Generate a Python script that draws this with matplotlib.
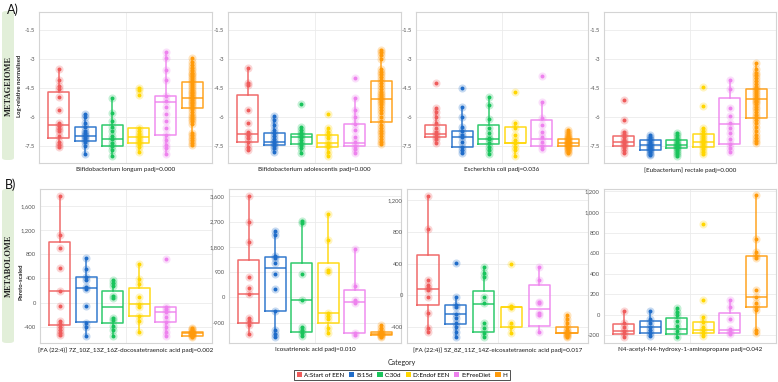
import matplotlib
matplotlib.use("Agg")
import matplotlib.pyplot as plt
from matplotlib.patches import FancyBboxPatch, Patch
from matplotlib.ticker import FuncFormatter

plt.rcParams['font.family'] = ['Lato', 'DejaVu Sans']

categories = ["A:Start of EEN", "B:15d", "C:30d", "D:Endof EEN", "E:FreeDiet", "H"]
colors = ["#EF5B5B", "#1F6CC9", "#19C45C", "#FFD600", "#EE82EE", "#FF9A0A"]

titles_top = ["Bifidobacterium longum padj=0.000",
              "Bifidobacterium adolescentis padj=0.000",
              "Escherichia coli padj=0.036",
              "[Eubacterium] rectale padj=0.000"]
titles_bottom = ["[FA (22:4)] 7Z_10Z_13Z_16Z-docosatetraenoic acid padj=0.002",
                 "Icosatrienoic acid padj=0.010",
                 "[FA (22:4)] 5Z_8Z_11Z_14Z-eicosatetraenoic acid padj=0.017",
                 "N4-acetyl-N4-hydroxy-1-aminopropane padj=0.042"]

# ---- Metagenome panels: box stats [whislo, q1, med, q3, whishi] and points ----
a1_box = [[-7.55, -7.07, -6.43, -4.72, -3.5], [-7.9, -7.26, -6.98, -6.53, -5.85],
          [-8.0, -7.5, -7.15, -6.41, -5.0], [-7.8, -7.33, -7.02, -6.55, -6.55],
          [-7.9, -6.91, -5.21, -4.9, -2.65], [-7.45, -5.52, -5.0, -4.17, -2.97]]
a1_pts = [[-3.5, -4.1, -4.4, -4.55, -4.95, -5.65, -6.3, -6.45, -6.6, -6.75, -7.0, -7.3, -7.45, -7.55],
          [-5.85, -6.0, -6.3, -6.5, -6.7, -6.85, -6.95, -7.0, -7.1, -7.2, -7.3, -7.5, -7.9],
          [-5.0, -5.8, -6.2, -6.5, -6.75, -7.0, -7.15, -7.35, -7.5, -7.7, -8.0],
          [-4.5, -4.6, -4.85, -6.55, -6.75, -6.9, -7.0, -7.1, -7.2, -7.3, -7.4, -7.55, -7.8],
          [-2.65, -2.95, -3.55, -4.1, -4.9, -5.15, -5.5, -5.85, -6.2, -6.55, -6.95, -7.2, -7.45, -7.6, -7.9],
          [-2.97, -3.15, -3.3, -3.45, -3.55, -3.7, -3.8, -3.9, -4.0, -4.1, -4.2, -4.3, -4.4, -4.5, -4.6,
           -4.7, -4.75, -4.85, -4.95, -5.0, -5.1, -5.2, -5.3, -5.4, -5.5, -5.6, -5.75, -5.9, -6.0, -6.1,
           -6.2, -6.35, -6.85, -6.95, -7.1, -7.2, -7.35, -7.45]]

a2_box = [[-7.7, -7.28, -6.9, -4.86, -3.48], [-7.8, -7.45, -7.28, -6.84, -5.95],
          [-7.85, -7.4, -7.05, -6.88, -6.5], [-8.0, -7.57, -7.33, -6.93, -6.59],
          [-7.88, -7.48, -7.33, -6.38, -5.03], [-7.4, -6.24, -5.09, -4.14, -2.53]]
a2_pts = [[-3.48, -4.26, -4.35, -5.64, -6.29, -6.76, -6.93, -7.1, -7.28, -7.53, -7.7],
          [-5.95, -6.16, -6.41, -6.67, -6.84, -7.0, -7.15, -7.28, -7.36, -7.5, -7.62, -7.8],
          [-5.33, -6.5, -6.67, -6.84, -6.93, -7.05, -7.19, -7.33, -7.45, -7.62, -7.85],
          [-5.84, -6.59, -6.76, -6.93, -7.1, -7.33, -7.45, -7.57, -7.79, -8.0],
          [-3.97, -5.03, -5.64, -5.98, -6.38, -6.67, -7.02, -7.28, -7.48, -7.67, -7.88],
          [-2.53, -2.65, -2.8, -3.0, -3.5, -3.65, -3.8, -3.95, -4.1, -4.25, -4.4, -4.55, -4.7, -4.8,
           -4.9, -5.0, -5.1, -5.2, -5.35, -5.5, -5.65, -5.8, -6.0, -6.2, -6.4, -6.55, -6.7, -6.85,
           -7.0, -7.15, -7.3, -7.4]]

a3_box = [[-7.33, -7.05, -6.88, -6.41, -5.55], [-7.88, -7.53, -7.05, -6.72, -5.47],
          [-7.91, -7.41, -7.15, -6.41, -4.95], [-8.02, -7.36, -7.36, -6.53, -6.33],
          [-7.65, -7.5, -7.15, -6.16, -5.21], [-7.88, -7.5, -7.33, -7.15, -6.67]]
a3_pts = [[-4.26, -5.55, -5.72, -5.98, -6.33, -6.59, -6.76, -6.88, -7.02, -7.15, -7.33],
          [-4.52, -5.47, -6.02, -6.5, -6.72, -6.93, -7.05, -7.28, -7.53, -7.7, -7.88],
          [-4.95, -5.38, -6.12, -6.55, -6.81, -7.07, -7.15, -7.33, -7.53, -7.71, -7.91],
          [-4.69, -6.33, -6.59, -6.93, -7.19, -7.36, -7.53, -7.71, -8.02],
          [-3.86, -5.21, -6.07, -6.41, -6.76, -7.02, -7.28, -7.5, -7.65],
          [-6.67, -6.8, -6.9, -7.0, -7.05, -7.1, -7.15, -7.2, -7.25, -7.3, -7.33, -7.36, -7.4,
           -7.45, -7.5, -7.55, -7.6, -7.65, -7.7, -7.8, -7.88]]

a4_box = [[-7.88, -7.5, -7.28, -6.98, -6.76], [-7.97, -7.71, -7.45, -7.19, -6.93],
          [-8.02, -7.62, -7.45, -7.19, -6.84], [-7.91, -7.57, -7.28, -6.9, -6.59],
          [-7.83, -7.4, -6.38, -5.0, -4.09], [-7.36, -6.07, -5.07, -4.57, -3.19]]
a4_pts = [[-5.12, -6.16, -6.76, -6.9, -7.05, -7.2, -7.28, -7.35, -7.45, -7.55, -7.7, -7.88],
          [-6.93, -7.05, -7.15, -7.2, -7.3, -7.4, -7.45, -7.5, -7.55, -7.6, -7.65, -7.7, -7.8, -7.9, -7.97],
          [-6.84, -6.95, -7.1, -7.2, -7.3, -7.4, -7.45, -7.5, -7.55, -7.6, -7.7, -7.8, -7.9, -8.02],
          [-4.43, -5.43, -6.59, -6.75, -6.9, -7.0, -7.1, -7.2, -7.28, -7.35, -7.45, -7.55, -7.65, -7.8, -7.91],
          [-4.09, -4.57, -5.55, -5.95, -6.3, -6.55, -6.84, -7.15, -7.4, -7.6, -7.83],
          [-3.19, -3.5, -3.7, -3.85, -4.0, -4.15, -4.3, -4.45, -4.55, -4.65, -4.75, -4.85, -4.95,
           -5.05, -5.15, -5.25, -5.35, -5.5, -5.6, -5.75, -5.9, -6.0, -6.15, -6.3, -6.5, -6.7,
           -6.95, -7.1, -7.25, -7.36]]

# ---- Metabolome panels ----
b1_box = [[-534, -369, 193, 1008, 1763], [-545, -320, 248, 430, 744], [-545, -331, -77, 198, 375],
          [-479, -220, -22, 248, 639], [-545, -325, -160, -77, -77], [-562, -545, -507, -479, -413]]
b1_pts = [[1763, 1118, 898, 579, 193, -55, -298, -358, -397, -452, -496, -534],
          [744, 556, 430, 375, 264, 226, -55, -331, -397, -545],
          [375, 331, 281, 110, 72, -248, -287, -386, -452, -545],
          [639, 391, 309, 99, -22, -66, -220, -298, -479],
          [716, -77, -105, -160, -231, -325, -397, -479, -545],
          [-413, -440, -460, -480, -495, -505, -515, -525, -540, -550, -562]]

b2_box = [[-1306, -926, 107, 1329, 3608], [-1400, -475, 1033, 1424, 2374], [-1377, -1223, -95, 1234, 2730],
          [-1282, -902, -570, 1211, 2968], [-1341, -1258, -154, 261, 1709], [-1400, -1341, -1306, -1223, -985]]
b2_pts = [[3608, 2694, 1958, 712, 344, 107, -748, -843, -985, -1306],
          [2374, 2220, 1472, 1389, 1234, 831, 285, -475, -1163, -1306, -1400],
          [2730, 2630, 831, -95, -1045, -1163, -1282, -1377],
          [2968, 2042, 973, 914, -570, -665, -783, -1104, -1282],
          [1709, 415, -95, -190, -1258, -1341],
          [-985, -1100, -1200, -1250, -1290, -1320, -1340, -1370, -1400]]

b3_box = [[-457, -122, 80, 507, 1253], [-520, -360, -235, -122, -17], [-520, -457, -113, 54, 360],
          [-478, -394, -142, -142, -142], [-457, -385, -168, 130, 360], [-520, -469, -469, -394, -247]]
b3_pts = [[1253, 830, 193, 130, 88, 67, -25, -218, -415, -457],
          [402, -17, -122, -151, -235, -290, -352, -394, -457, -520],
          [360, 285, 226, -25, -100, -352, -415, -470, -520],
          [394, -134, -163, -352, -394, -478],
          [360, 193, -80, -100, -218, -247, -457],
          [-247, -300, -350, -400, -430, -450, -469, -480, -495, -510, -520]]

b4_box = [[-214, -188, -156, -91, 39], [-205, -175, -117, -62, 39], [-214, -188, -143, -36, 62],
          [-205, -182, -149, -68, -19], [-188, -175, -149, 19, 143], [-175, 71, 175, 575, 1166]]
b4_pts = [[39, -84, -117, -156, -180, -214],
          [39, -45, -84, -117, -150, -182, -205],
          [62, 30, 0, -62, -110, -160, -214],
          [880, 143, -19, -68, -117, -149, -182, -205],
          [143, 71, -45, -143, -165, -188],
          [1166, 737, 607, 575, 549, 240, 175, 110, 78, 45, -149, -175]]

top_yticks = [-7.5, -6, -4.5, -3, -1.5]
b1_yticks = [-400, 0, 400, 800, 1200, 1600]
b2_yticks = [-900, 0, 900, 1800, 2700, 3600]
b3_yticks = [-400, 0, 400, 800, 1200]
b4_yticks = [-200, 0, 200, 400, 600, 800, 1000, 1200]

W, H = 778, 382
fig = plt.figure(figsize=(W / 100, H / 100), dpi=100)


def px_axes(x0, y0, x1, y1):
    return fig.add_axes([x0 / W, 1 - y1 / H, (x1 - x0) / W, (y1 - y0) / H])


def fmt_top(v, _):
    return "%g" % v


def fmt_bot(v, _):
    return "{:,.0f}".format(v)


def draw(ax, boxes, pts, ylim, yticks, fmt):
    stats = [dict(whislo=b[0], q1=b[1], med=b[2], q3=b[3], whishi=b[4]) for b in boxes]
    res = ax.bxp(stats, positions=list(range(6)), widths=0.78, showfliers=False,
                 showcaps=False, manage_ticks=False)
    for i, c in enumerate(colors):
        res['boxes'][i].set(color=c, linewidth=1.1, alpha=0.9)
        res['medians'][i].set(color=c, linewidth=1.1, alpha=0.9)
        res['whiskers'][2 * i].set(color=c, linewidth=1.1, alpha=0.9)
        res['whiskers'][2 * i + 1].set(color=c, linewidth=1.1, alpha=0.9)
    for i, c in enumerate(colors):
        ax.scatter([i] * len(pts[i]), pts[i], s=34, color=c, alpha=0.25, linewidths=0, zorder=3)
        ax.scatter([i] * len(pts[i]), pts[i], s=8, color=c, alpha=1.0, linewidths=0, zorder=4)
    ax.set_xlim(-0.74, 5.74)
    ax.set_ylim(*ylim)
    ax.set_yticks(yticks)
    ax.yaxis.set_major_formatter(FuncFormatter(fmt))
    ax.set_xticks([])
    ax.grid(axis='y', color='#ebebeb', linewidth=0.6)
    ax.axvline(2.5, color='#ebebeb', linewidth=0.6, zorder=0)
    ax.set_axisbelow(True)
    ax.tick_params(axis='y', length=0, labelsize=4.2, labelcolor='#555555', pad=3)
    for sp in ax.spines.values():
        sp.set_color('#d4d4d4')
        sp.set_linewidth(0.8)


top_x = [(39, 212), (228, 401), (416, 588), (604, 776)]
bot_x = [(40, 212), (229, 401), (407, 588), (604, 776)]
top_data = [(a1_box, a1_pts), (a2_box, a2_pts), (a3_box, a3_pts), (a4_box, a4_pts)]
bot_data = [(b1_box, b1_pts, (-667, 1880), b1_yticks), (b2_box, b2_pts, (-1626, 3858), b2_yticks),
            (b3_box, b3_pts, (-599, 1337), b3_yticks), (b4_box, b4_pts, (-276, 1224), b4_yticks)]

for k in range(4):
    ax = px_axes(top_x[k][0], 12, top_x[k][1], 163)
    draw(ax, top_data[k][0], top_data[k][1], (-8.38, -0.57), top_yticks, fmt_top)
    fig.text((top_x[k][0] + top_x[k][1]) / 2 / W, 1 - 170 / H, titles_top[k],
             ha='center', va='center', fontsize=4.5, color='#1a1a1a')

for k in range(4):
    ax = px_axes(bot_x[k][0], 189, bot_x[k][1], 343)
    b, p, yl, yt = bot_data[k]
    draw(ax, b, p, yl, yt, fmt_bot)
    fig.text((bot_x[k][0] + bot_x[k][1]) / 2 / W, 1 - 350 / H, titles_bottom[k],
             ha='center', va='center', fontsize=4.5, color='#1a1a1a')

# side panels
for (y0, y1, label) in [(11, 160, "METAGEIOME"), (189, 343, "METABOLOME")]:
    patch = FancyBboxPatch((2 / W, 1 - y1 / H), 12 / W, (y1 - y0) / H,
                           boxstyle="round,pad=0,rounding_size=0.006",
                           transform=fig.transFigure, facecolor='#E2EFD9', edgecolor='none')
    fig.patches.append(patch)
    fig.text(8.5 / W, 1 - (y0 + y1) / 2 / H, label, rotation=90, ha='center', va='center',
             fontsize=6, fontweight='bold', family='Liberation Serif', color='#222222')

fig.text(7 / W, 1 - 10 / H, "A)", fontsize=9, ha='left', va='center', color='#111111')
fig.text(5 / W, 1 - 185 / H, "B)", fontsize=9, ha='left', va='center', color='#111111')

fig.text(20 / W, 1 - 86 / H, "Log-relative normalised", rotation=90, ha='center', va='center',
         fontsize=4.2, fontweight='bold', color='#222222')
fig.text(21 / W, 1 - 282 / H, "Pareto-scaled", rotation=90, ha='center', va='center',
         fontsize=4.2, fontweight='bold', color='#222222')

fig.text(402 / W, 1 - 362 / H, "Category", ha='center', va='center', fontsize=5, color='#222222')
handles = [Patch(facecolor=c, edgecolor='none', label=l) for c, l in zip(colors, categories)]
leg = fig.legend(handles=handles, loc='center', bbox_to_anchor=(402 / W, 1 - 375 / H), ncol=6,
                 fontsize=4.5, frameon=True, fancybox=False, handlelength=0.9, handleheight=0.9,
                 handletextpad=0.3, columnspacing=0.7, borderpad=0.35)
leg.get_frame().set_edgecolor('black')
leg.get_frame().set_linewidth(0.6)

fig.savefig("out.png", dpi=100)
